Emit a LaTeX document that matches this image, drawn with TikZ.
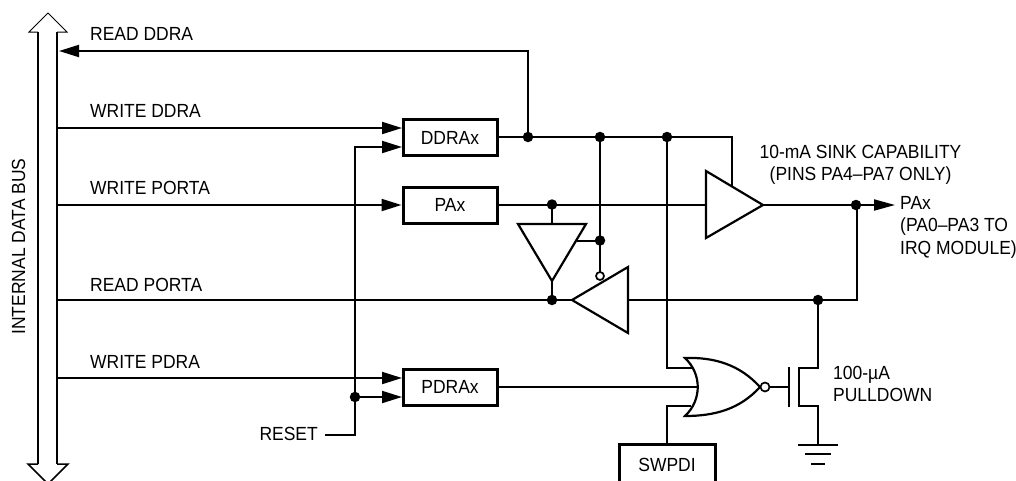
\documentclass[tikz,border=0pt]{standalone}
\usepackage{fontspec}
\setmainfont{Liberation Sans}
\usetikzlibrary{arrows.meta,calc}
\tikzset{
  wire/.style={line width=2pt,line cap=butt},
  feed/.style={wire,-{Triangle[length=20pt,width=12pt]}},
  gatebody/.style={line width=2.2pt,line join=miter,fill=white},
  blockbox/.style={draw,line width=3pt,fill=white,minimum width=94pt,minimum height=36pt,inner sep=0pt,font=\lab},
  txt/.style={inner sep=0pt,font=\lab},
  junction/.style={circle,fill=black,inner sep=0pt,minimum size=10.5pt},
  bubble/.style={circle,draw,line width=1.7pt,fill=white,inner sep=0pt,minimum size=8pt},
}
\newcommand{\lab}{\fontsize{19pt}{22.5pt}\selectfont\addfontfeature{FakeStretch=0.92}}
\begin{document}
\begin{tikzpicture}[x=1pt,y=-1pt]
\useasboundingbox (0,0) rectangle (1016,480);
\clip (0,0) rectangle (1016,480);
% bus
\draw[line width=1pt,fill=white] (38,32) -- (29,32) -- (48,13) -- (67,32) -- (57,32);
\draw[line width=1.5pt,fill=white] (38,464) -- (28,464) -- (48,484) -- (68,464) -- (57,464);
\draw[line width=2.4pt] (38,32) -- (38,464) (57,32) -- (57,464);
\node[txt,rotate=90] (busl) at (18.5,246.5) {INTERNAL DATA BUS};
% boxes
\node[blockbox] (ddr) at (450,137.5) {DDRAx};
\node[blockbox] (pax) at (450,205) {PAx};
\node[blockbox] (pdr) at (450,387) {PDRAx};
\node[draw,line width=3pt,fill=white,minimum width=96pt,minimum height=50pt,inner sep=0pt] (swp) at (667,469) {};
\node[txt] (swpt) at (667,465) {SWPDI};
% bus coordinates
\coordinate (b1) at (59,51);
\coordinate (b2) at (57,128);
\coordinate (b3) at (57,205);
\coordinate (b4) at (57,300);
\coordinate (b5) at (57,378);
% junctions
\node[junction] (j1) at (528,137) {};
\node[junction] (j2) at (600,137) {};
\node[junction] (j3) at (667,137) {};
\node[junction] (j4) at (552,204.5) {};
\node[junction] (j5) at (600,240.5) {};
\node[junction] (j6) at (552,300) {};
\node[junction] (j7) at (856,205) {};
\node[junction] (j8) at (818,300) {};
\node[junction] (j9) at (355,397) {};
% wires
\draw[feed] (j1.center) |- (b1);
\draw[feed] (b2) -- (402,128);
\draw[feed] (b3) -- (pax.west);
\draw[feed] (b5) -- (402,378);
\draw[feed] (j9.center) -- (402,397);
\coordinate (rs) at (325,435);
\draw[feed] (rs) -- (355,435) -- (355,147) -- (402,147);
\draw[wire] (ddr.east |- j1) -- (j3.center) -- (732,137) -- (732,186);
\draw[wire] (pax.east) -- (706,205);
\draw[wire] (j4.center) -- (552,224);
\draw[wire] (552,281) -- (j6.center);
\draw[wire] (j2.center) -- (600,272);
\draw[wire] (j5.center) -- (577,240.5);
\draw[wire] (b4) -- (572,300);
\draw[wire] (628,300) -- (857,300) -- (857,205);
\draw[wire] (763,205) -- (j7.center);
\coordinate (out) at (895,205);
\draw[wire,-{Triangle[length=21pt,width=11pt]}] (j7.center) -- (out);
\draw[wire] (j3.center) -- (667,368) -- (693,368);
\draw[wire] (pdr.east) -- (698,387);
\draw[wire] (swp.north) -- (667,406) -- (691,406);
\draw[wire] (j8.center) -- (818,368) -- (799,368) -- (799,406) -- (818,406) -- (818,445);
\draw[wire] (770,387) -- (789,387);
\draw[wire] (789,367) -- (789,407);
\draw[wire] (798,445) -- (838,445) (805,454) -- (831,454) (811,464) -- (825,464);
% gates
\draw[gatebody] (706,171) -- (763,205) -- (706,238) -- cycle;
\draw[gatebody] (518,224) -- (586,224) -- (552,281) -- cycle;
\draw[gatebody] (572,300) -- (628,267) -- (628,333) -- cycle;
\node[bubble] (inv) at (600,276) {};
\draw[gatebody] (685,358) .. controls (715,357) and (740,365) .. (760,387)
  .. controls (740,409) and (715,416) .. (685,416)
  .. controls (702,400) and (702,374) .. (685,358) -- cycle;
\node[bubble,minimum size=9pt] (nor) at (765,387) {};
% labels
\node[txt,anchor=west] (l1) at (90,34) {READ DDRA};
\node[txt,anchor=west] (l2) at (90,111) {WRITE DDRA};
\node[txt,anchor=west] (l3) at (90,188) {WRITE PORTA};
\node[txt,anchor=west] (l4) at (90,285) {READ PORTA};
\node[txt,anchor=west] (l5) at (90,362) {WRITE PDRA};
\node[txt,anchor=east] (l6) at (318,434) {RESET};
\node[txt,align=center] (l7) at (860.5,165) {10-mA SINK CAPABILITY\\(PINS PA4–PA7 ONLY)};
\node[txt,align=left,anchor=north west] (l8) at (900,196) {PAx\\(PA0–PA3 TO\\IRQ MODULE)};
\node[txt,align=left,anchor=west] (l9) at (833,384) {100-µA\\PULLDOWN};
\end{tikzpicture}
\end{document}
